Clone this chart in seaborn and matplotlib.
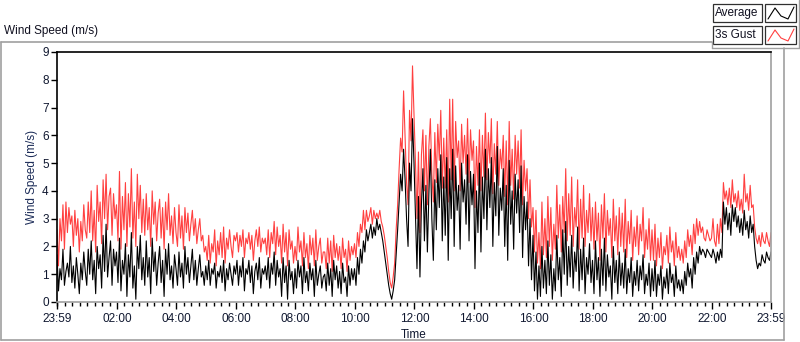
import numpy as np
import pandas as pd
import matplotlib
matplotlib.use("Agg")
import matplotlib.pyplot as plt
from matplotlib.patches import Rectangle
from matplotlib.lines import Line2D
import seaborn as sns

# ---- data (3-minute samples from 23:59 to 23:59, one row per hour) ----
average = [
    1.7, 0.4, 1.2, 0.8, 1.9, 0.6, 1.1, 1.4, 0.9, 2.0, 0.7, 1.3, 0.5, 1.6, 1.0, 0.3, 1.4, 0.8, 1.8, 1.1,
    0.6, 1.9, 1.0, 2.2, 0.8, 1.5, 0.3, 2.0, 1.2, 1.7, 0.5, 2.4, 1.1, 2.8, 0.9, 1.6, 2.2, 0.6, 1.9, 1.3,
    1.8, 0.7, 2.3, 0.4, 1.5, 1.0, 2.1, 0.2, 1.7, 0.9, 2.5, 0.5, 1.3, 0.1, 2.0, 1.2, 2.4, 0.8, 1.6, 0.6,
    2.2, 0.9, 1.6, 0.3, 2.3, 1.1, 1.8, 0.6, 1.4, 2.0, 0.7, 1.5, 0.2, 1.9, 1.0, 2.1, 0.8, 1.3, 0.5, 1.7,
    1.2, 0.6, 1.8, 0.9, 1.4, 0.5, 2.0, 1.0, 1.6, 0.7, 1.3, 1.9, 0.8, 1.5, 0.6, 1.2, 1.7, 0.9, 1.1, 0.6,
    1.3, 0.8, 1.5, 0.6, 1.2, 1.0, 1.4, 0.5, 1.1, 0.9, 1.3, 0.7, 1.5, 0.4, 1.2, 0.8, 1.4, 1.0, 0.6, 1.3,
    1.0, 1.5, 0.6, 1.3, 0.9, 1.6, 0.4, 1.2, 1.0, 1.5, 0.7, 1.3, 0.3, 1.1, 1.4, 0.8, 1.6, 0.5, 1.2, 1.0,
    1.3, 0.8, 1.6, 0.5, 1.4, 1.0, 1.8, 0.6, 1.5, 0.9, 1.2, 0.2, 1.6, 0.7, 1.3, 0.1, 1.5, 0.8, 1.1, 0.3,
    1.2, 0.5, 1.5, 0.9, 1.3, 0.3, 1.6, 0.7, 1.1, 0.4, 1.4, 0.8, 1.2, 0.2, 1.5, 0.6, 1.0, 1.3, 0.5, 0.9,
    1.0, 0.4, 1.4, 0.6, 1.2, 0.2, 1.5, 0.8, 1.3, 0.5, 1.1, 0.3, 1.4, 0.7, 0.9, 0.2, 1.3, 0.6, 1.2, 0.8,
    1.2, 0.6, 1.6, 1.0, 1.9, 1.4, 2.2, 1.8, 2.6, 2.2, 2.5, 2.8, 2.3, 2.7, 2.4, 3.0, 2.6, 2.8, 2.5, 2.2,
    1.8, 1.4, 1.0, 0.6, 0.3, 0.1, 0.4, 0.8, 1.7, 2.6, 3.6, 4.6, 4.0, 5.5, 4.4, 3.0, 2.0, 5.0, 4.0, 6.6,
    5.0, 3.1, 1.2, 3.8, 0.9, 3.5, 4.8, 2.2, 4.2, 1.8, 3.9, 5.5, 3.0, 1.5, 4.4, 2.6, 4.8, 3.4, 5.3, 2.2,
    4.5, 2.4, 5.2, 1.5, 4.8, 3.0, 5.5, 2.0, 4.9, 3.3, 4.2, 1.9, 5.0, 3.6, 4.4, 2.8, 5.3, 2.2, 4.7, 3.5,
    4.6, 1.2, 4.0, 2.5, 5.0, 1.8, 4.5, 3.0, 5.5, 2.6, 4.8, 3.4, 5.2, 2.0, 4.3, 3.1, 5.6, 2.4, 4.1, 3.3,
    4.8, 2.0, 4.2, 1.5, 5.1, 2.8, 4.0, 1.9, 4.6, 3.2, 4.4, 2.5, 4.9, 1.6, 3.8, 2.6, 3.6, 1.3, 3.0, 0.8,
    2.4, 0.4, 1.8, 0.1, 1.3, 0.2, 2.0, 0.5, 1.5, 0.3, 2.2, 0.6, 1.7, 0.1, 1.2, 0.4, 2.4, 0.8, 1.6, 0.2,
    2.6, 1.0, 2.9, 0.6, 2.0, 0.9, 2.4, 0.5, 1.8, 1.1, 2.7, 0.4, 1.9, 0.8, 2.3, 0.3, 1.6, 1.0, 2.1, 0.7,
    1.5, 0.3, 2.2, 0.8, 1.6, 0.2, 1.9, 0.6, 2.3, 0.4, 1.7, 0.9, 1.3, 0.1, 2.0, 0.7, 1.5, 0.3, 1.8, 0.6,
    1.4, 0.5, 1.9, 0.3, 1.2, 0.7, 1.6, 0.2, 1.1, 0.6, 1.5, 0.4, 1.3, 0.8, 1.7, 0.3, 1.0, 0.6, 1.4, 0.2,
    1.2, 0.4, 1.5, 0.2, 1.0, 0.6, 1.3, 0.1, 0.9, 0.5, 1.2, 0.3, 1.4, 0.7, 1.0, 0.2, 1.3, 0.5, 0.8, 0.4,
    0.8, 0.3, 1.1, 0.6, 1.4, 0.9, 1.2, 0.5, 1.6, 1.0, 1.8, 1.4, 2.0, 1.7, 1.9, 1.8, 1.6, 1.9, 1.8, 1.7,
    1.6, 1.9, 1.7, 1.4, 1.8, 1.5, 1.9, 1.6, 3.6, 2.8, 3.4, 2.6, 3.2, 2.4, 3.5, 2.9, 3.4, 2.7, 3.1, 2.5,
    3.0, 2.4, 3.3, 2.6, 2.9, 2.3, 3.1, 2.5, 2.8, 2.0, 1.5, 1.2, 1.4, 1.3, 1.7, 1.5, 1.4, 1.8, 1.6, 1.5,
    1.8,
]
gust = [
    2.6, 1.3, 3.0, 2.2, 3.5, 1.9, 3.6, 2.5, 3.4, 2.8, 3.1, 2.0, 3.3, 2.4, 3.0, 1.8, 2.9, 2.2, 3.5, 2.6,
    2.3, 3.6, 2.5, 4.0, 2.2, 3.3, 1.8, 4.2, 2.9, 3.6, 2.1, 4.4, 3.0, 4.6, 2.6, 3.8, 4.1, 2.4, 3.9, 3.0,
    3.5, 2.2, 4.7, 1.9, 3.8, 2.6, 4.3, 2.0, 3.9, 2.7, 4.8, 2.3, 3.6, 2.0, 4.6, 3.0, 4.2, 2.5, 3.7, 2.4,
    3.9, 2.6, 3.4, 2.0, 4.0, 2.8, 3.6, 2.2, 3.2, 3.7, 2.3, 3.4, 1.9, 3.6, 2.6, 3.9, 2.4, 3.1, 2.1, 3.4,
    2.5, 2.0, 3.5, 2.3, 3.1, 1.9, 3.4, 2.5, 3.2, 2.2, 2.8, 3.3, 2.4, 3.0, 2.1, 2.6, 3.0, 2.2, 2.4, 1.8,
    2.0, 1.5, 2.4, 1.4, 2.1, 1.8, 2.6, 1.3, 2.2, 1.7, 2.5, 1.6, 2.7, 1.4, 2.3, 1.9, 2.6, 2.0, 1.6, 2.4,
    2.2, 2.5, 1.8, 2.4, 2.0, 2.6, 1.6, 2.3, 2.1, 2.5, 1.9, 2.4, 1.5, 2.2, 2.6, 2.0, 2.7, 1.8, 2.3, 2.1,
    2.3, 1.7, 2.6, 1.6, 2.5, 2.1, 2.9, 1.7, 2.7, 2.0, 2.4, 1.4, 2.8, 1.8, 2.5, 1.3, 2.6, 1.9, 2.2, 1.4,
    2.0, 1.5, 2.7, 1.8, 2.2, 1.3, 2.5, 1.6, 2.1, 1.2, 2.4, 1.7, 2.3, 1.3, 2.6, 1.5, 2.0, 2.3, 1.4, 1.8,
    1.8, 1.2, 2.3, 1.4, 2.2, 1.1, 2.4, 1.6, 2.1, 1.5, 2.0, 1.2, 2.3, 1.6, 1.9, 1.1, 2.2, 1.5, 2.0, 1.7,
    2.1, 1.6, 2.5, 2.0, 2.8, 2.5, 3.3, 2.6, 3.3, 2.9, 3.1, 3.4, 2.8, 3.3, 3.0, 3.2, 3.0, 3.3, 2.9, 2.7,
    2.4, 2.0, 1.6, 1.1, 0.7, 0.5, 0.9, 1.4, 2.6, 3.5, 4.8, 5.9, 5.4, 7.6, 6.0, 4.3, 3.5, 6.9, 5.8, 8.5,
    6.8, 5.0, 3.0, 5.4, 2.5, 5.3, 6.2, 4.0, 6.0, 3.5, 5.6, 6.6, 4.6, 3.6, 6.1, 4.3, 6.4, 5.1, 6.9, 4.1,
    5.9, 4.1, 6.2, 3.6, 7.3, 4.4, 7.3, 4.0, 6.5, 5.2, 5.8, 4.0, 6.4, 5.0, 6.0, 4.6, 6.6, 4.3, 6.2, 5.1,
    5.8, 3.4, 5.6, 4.2, 6.2, 4.0, 6.0, 4.5, 6.8, 4.4, 6.1, 5.0, 6.6, 3.9, 5.7, 4.6, 6.5, 4.2, 5.5, 4.8,
    6.0, 3.8, 5.8, 3.5, 6.5, 4.2, 5.5, 3.7, 6.0, 4.6, 5.8, 4.1, 6.2, 3.5, 5.1, 4.0, 4.8, 3.0, 4.4, 2.7,
    3.4, 1.8, 3.3, 1.4, 2.5, 1.2, 3.6, 1.7, 3.0, 1.6, 3.8, 2.0, 3.4, 1.5, 2.8, 1.9, 4.2, 2.3, 3.5, 1.8,
    3.8, 2.5, 4.8, 2.2, 3.9, 2.4, 4.5, 2.0, 3.4, 2.7, 4.4, 1.9, 3.7, 2.3, 4.2, 2.0, 3.3, 2.5, 3.9, 2.2,
    3.4, 1.9, 3.6, 2.2, 3.2, 1.5, 3.5, 2.3, 3.9, 1.8, 3.3, 2.4, 3.0, 1.6, 3.7, 2.2, 3.1, 1.7, 3.4, 2.0,
    3.2, 1.8, 3.7, 1.6, 2.9, 2.1, 3.3, 1.5, 2.7, 2.0, 3.1, 1.7, 2.8, 2.2, 3.4, 1.6, 2.6, 1.9, 3.0, 1.5,
    2.6, 1.5, 2.8, 1.3, 2.3, 1.6, 2.5, 1.2, 2.0, 1.7, 2.4, 1.4, 2.7, 1.8, 2.2, 1.3, 2.5, 1.6, 2.0, 1.5,
    1.9, 1.4, 2.2, 1.6, 2.6, 2.0, 2.4, 1.7, 2.8, 2.1, 3.0, 2.4, 2.9, 2.5, 2.7, 2.3, 2.2, 2.6, 2.4, 2.2,
    2.3, 3.0, 2.2, 2.0, 2.8, 2.1, 3.0, 2.5, 4.3, 3.7, 4.0, 3.5, 4.1, 3.4, 4.4, 3.6, 3.9, 3.4, 4.0, 3.3,
    3.7, 3.2, 4.6, 3.6, 3.9, 3.3, 4.2, 3.4, 3.5, 2.7, 2.3, 2.1, 2.4, 2.0, 2.5, 2.2, 2.1, 2.5, 2.2, 2.0,
    2.5,
]
tick_labels = ["23:59", "02:00", "04:00", "06:00", "08:00", "10:00", "12:00",
               "14:00", "16:00", "18:00", "20:00", "22:00", "23:59"]
series_names = ["Average", "3s Gust"]
series_colors = ["#000000", "#ff4040"]

# hours elapsed since 23:59
hours = np.arange(len(average)) * 24.0 / (len(average) - 1)
df = pd.DataFrame({"t": hours, "Average": average, "3s Gust": gust})

sns.set_style("white")
plt.rcParams["font.family"] = ["Liberation Sans", "DejaVu Sans"]

fig = plt.figure(figsize=(8.0, 3.42), dpi=100)
W, H = 800, 342

def fx(px):
    return px / W

def fy(py):
    return 1 - py / H

ax = fig.add_axes([fx(57), fy(302), fx(771) - fx(57), fy(52) - fy(302)])

sns.lineplot(data=df, x="t", y="3s Gust", ax=ax, color=series_colors[1], lw=0.8)
sns.lineplot(data=df, x="t", y="Average", ax=ax, color=series_colors[0], lw=0.8)

ax.set_xlim(0, 24)
ax.set_ylim(0, 9)

off = 1 / 60
major = [0] + [2 * k + off for k in range(1, 12)] + [24]
ax.set_xticks(major)
ax.set_xticklabels(tick_labels)
minor = [off + 0.25 * k for k in range(0, 97) if off + 0.25 * k < 24]
ax.set_xticks(minor, minor=True)
ax.set_yticks(range(0, 10))

label_col = "#101830"
ax.tick_params(axis="x", which="major", length=5, width=1, color="black",
               labelsize=8.5, labelcolor=label_col, pad=3, bottom=True)
ax.tick_params(axis="x", which="minor", length=3, width=1, color="black", bottom=True)
ax.tick_params(axis="y", which="major", length=4, width=1, color="black",
               labelsize=8.5, labelcolor=label_col, pad=2, left=True)

for s in ["top", "left"]:
    ax.spines[s].set_color("black")
    ax.spines[s].set_linewidth(1.2)
for s in ["right", "bottom"]:
    ax.spines[s].set_color("#a0a0a0")
    ax.spines[s].set_linewidth(1.2)

ax.set_xlabel("Time", fontsize=8.5, color=label_col, labelpad=3)
ax.set_ylabel("Wind Speed (m/s)", fontsize=8.5, color="#1c2c58", labelpad=3)

# outer panel frame
grey = "#a0a0a0"
fig.add_artist(Line2D([fx(1), fx(1)], [fy(42), fy(340)], color=grey, lw=1.2))
fig.add_artist(Line2D([fx(1), fx(784)], [fy(340), fy(340)], color=grey, lw=1.2))
fig.add_artist(Line2D([fx(1), fx(712)], [fy(42), fy(42)], color=grey, lw=1.2))
fig.add_artist(Line2D([fx(784), fx(784)], [fy(48), fy(340)], color=grey, lw=1.2))
fig.add_artist(Line2D([fx(712), fx(712)], [fy(42), fy(48)], color=grey, lw=1.0))
fig.add_artist(Line2D([fx(712), fx(799)], [fy(48), fy(48)], color=grey, lw=1.0))
fig.add_artist(Line2D([fx(799), fx(799)], [fy(0), fy(48)], color=grey, lw=1.0))

fig.text(fx(4), fy(31), "Wind Speed (m/s)", fontsize=8.5, color="#101020",
         ha="left", va="center")

# legend boxes
rows = [(4, 22), (26, 44)]
for (y0, y1), name, col in zip(rows, series_names, series_colors):
    fig.add_artist(Rectangle((fx(713), fy(y1)), fx(762) - fx(713), fy(y0) - fy(y1),
                             facecolor="white", edgecolor="#303030", lw=0.9))
    fig.text(fx(715), (fy(y0) + fy(y1)) / 2, name, fontsize=8.5, color="#101020",
             ha="left", va="center")
    fig.add_artist(Rectangle((fx(765), fy(y1)), fx(796) - fx(765), fy(y0) - fy(y1),
                             facecolor="white", edgecolor="#303030", lw=0.9))
    zx = [768, 775, 781, 788, 794]
    zy = [y1 - 3, y0 + 4, y1 - 6, y1 - 3, y0 + 3]
    fig.add_artist(Line2D([fx(v) for v in zx], [fy(v) for v in zy], color=col, lw=0.8))

fig.savefig("out.png", dpi=100)
